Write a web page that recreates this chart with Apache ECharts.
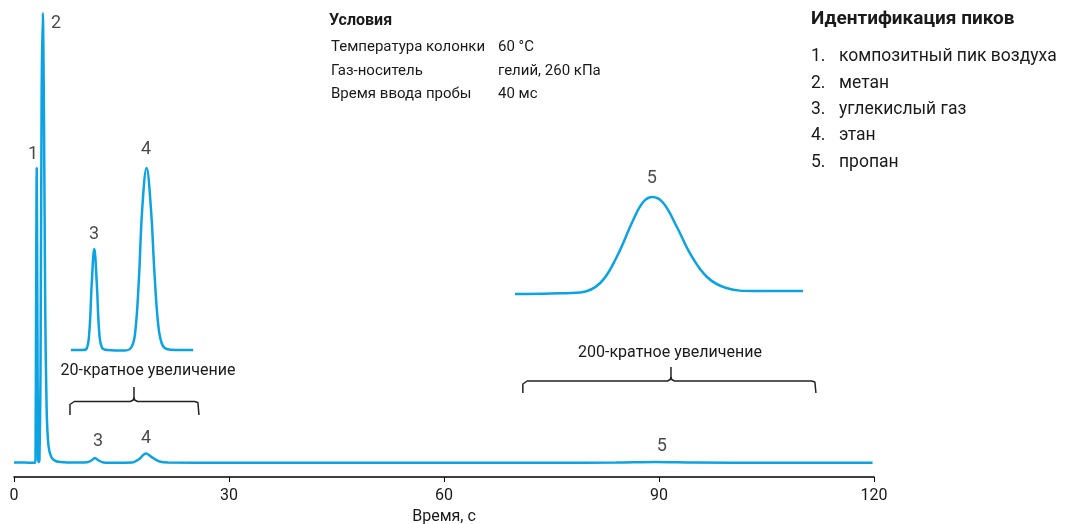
<!DOCTYPE html>
<html><head><meta charset="utf-8">
<script src="https://cdn.jsdelivr.net/npm/echarts@6/dist/echarts.min.js"></script>
<style>html,body{margin:0;padding:0;background:#fff;}#c{width:1065px;height:524px;}</style>
</head><body><div id="c"></div>
<script>
// Time axis (s) and tick labels
var xTicks = [0, 30, 60, 90, 120];
// Main chromatogram: [time s, signal]
var mainTrace = [
  [0,0.5],[1.5,0.4],[2.9,0.3],[3.0,4],[3.08,150],[3.17,295],[3.26,150],[3.36,6],[3.45,1],
  [3.55,3],[3.7,90],[3.85,360],[4.02,450],[4.18,350],[4.35,160],[4.55,55],[4.8,18],[5.2,6],[5.8,2],[7,0.8],
  [9,0.5],[10.2,0.7],[10.8,2.5],[11.3,5],[11.8,2.5],[12.5,0.6],[14,0.3],[16.5,0.5],[17.4,3.5],
  [18.4,9.5],[19.4,5],[20.3,1.5],[21.5,0.4],[30,0.2],[45,0.3],[60,0.2],[75,0.3],[84,0.4],
  [89.5,1.0],[95,0.4],[105,0.3],[119.8,0.3]
];
// 20x magnified inset (CO2 and ethane)
var inset20 = [
  [7.95,113],[9.5,113],[10.1,114],[10.5,130],[10.85,180],[11.2,214],[11.55,180],[11.9,130],
  [12.3,115],[13.0,113],[15.5,112.5],[16.4,116],[16.9,130],[17.4,180],[17.9,255],[18.5,295],
  [19.1,255],[19.6,190],[20.1,140],[20.6,120],[21.3,114],[22.5,113],[25.0,113]
];
// 200x magnified inset (propane)
var inset200 = [
  [69.9,169],[75,169.5],[79,170.5],[81.8,180],[84.1,206],[86.4,243],[87.8,261],[89.1,266],
  [90.6,260],[92.5,236],[94.3,210],[96.7,186],[99.4,175],[103.2,172],[110.1,172]
];
// Peak labels: [time, signal, text]
var peakLabels = [
  [2.65,309,'1'],[5.86,440,'2'],[11.16,229,'3'],[18.42,314,'4'],[89.0,285,'5'],
  [11.72,22,'3'],[18.42,25,'4'],[90.4,17,'5']
];
// Brackets: [start, middle, end] times and [end, level, notch] signal
var bracket20X = [7.81, 16.74, 25.81];
var bracket20Y = [48, 61.5, 76];
var bracket200X = [71.0, 91.67, 111.9];
var bracket200Y = [70, 82, 96];
// Text blocks
var condTitle = 'Условия';
var condNames = ['Температура колонки', 'Газ-носитель', 'Время ввода пробы'];
var condValues = ['60 °C', 'гелий, 260 кПа', '40 мс'];
var idTitle = 'Идентификация пиков';
var idNums = ['1.', '2.', '3.', '4.', '5.'];
var idNames = ['композитный пик воздуха', 'метан', 'углекислый газ', 'этан', 'пропан'];
var zoomTexts = ['20-кратное увеличение', '200-кратное увеличение'];
var xName = 'Время, с';

function bracketSeries(X, Y) {
  var x0 = X[0], xm = X[1], x1 = X[2], ye = Y[0], y = Y[1], yn = Y[2];
  var a = [[x0, ye], [x0, y - 3], [x0 + 0.15, y - 1], [x0 + 0.6, y], [xm - 0.5, y], [xm - 0.1, y + 1.5], [xm, y + 4], [xm, yn]];
  var b = [[xm, y + 4], [xm + 0.1, y + 1.5], [xm + 0.5, y], [x1 - 0.6, y], [x1 - 0.15, y - 1], [x1, y - 3], [x1, ye]];
  return [a, b];
}

var FONT = 'Roboto';
var TXT = '#1a1a1a';
var BLUE = '#0ba3e3';
var chart = echarts.init(document.getElementById('c'), null, {renderer: 'canvas'});

var series = [
  {type: 'line', data: mainTrace, smooth: 0.3, showSymbol: false, lineStyle: {color: BLUE, width: 2.5}, z: 3, silent: true},
  {type: 'line', data: inset20, smooth: 0.4, showSymbol: false, lineStyle: {color: BLUE, width: 2.5}, z: 3, silent: true},
  {type: 'line', data: inset200, smooth: 0.4, showSymbol: false, lineStyle: {color: BLUE, width: 2.5}, z: 3, silent: true},
  {type: 'scatter', data: peakLabels.map(function (p) { return {value: [p[0], p[1]], name: p[2]}; }),
   symbolSize: 0, silent: true,
   label: {show: true, position: 'inside', formatter: function (d) { return d.name; },
           fontFamily: FONT, fontSize: 18, color: TXT}}
];
[bracketSeries(bracket20X, bracket20Y), bracketSeries(bracket200X, bracket200Y)].forEach(function (parts) {
  parts.forEach(function (d) {
    series.push({type: 'line', data: d, smooth: false, showSymbol: false, silent: true,
      lineStyle: {color: '#222', width: 1.5}, z: 2});
  });
});

var graphics = [];
graphics.push({type: 'text', left: 329, top: 13, style: {text: condTitle, font: 'bold 16px ' + FONT, fill: TXT}});
condNames.forEach(function (n, i) {
  graphics.push({type: 'text', left: 331, top: 40 + i * 23.5, style: {text: n, font: '15px ' + FONT, fill: TXT}});
  graphics.push({type: 'text', left: 498, top: 40 + i * 23.5, style: {text: condValues[i], font: '15px ' + FONT, fill: TXT}});
});
graphics.push({type: 'text', left: 811, top: 10, style: {text: idTitle, font: 'bold 19px ' + FONT, fill: TXT}});
idNames.forEach(function (n, i) {
  graphics.push({type: 'text', left: 811, top: 48 + i * 26.3, style: {text: idNums[i], font: '17.5px ' + FONT, fill: TXT}});
  graphics.push({type: 'text', left: 839, top: 48 + i * 26.3, style: {text: n, font: '17.5px ' + FONT, fill: TXT}});
});
graphics.push({type: 'text', x: 148, y: 371, style: {text: zoomTexts[0], font: '16px ' + FONT, fill: TXT, textAlign: 'center', textVerticalAlign: 'middle'}});
graphics.push({type: 'text', x: 670, y: 353, style: {text: zoomTexts[1], font: '16px ' + FONT, fill: TXT, textAlign: 'center', textVerticalAlign: 'middle'}});

chart.setOption({
  animation: false,
  backgroundColor: '#fff',
  grid: {left: 14, right: 191, top: 13, bottom: 47, containLabel: false, outerBoundsMode: 'none'},
  xAxis: {
    type: 'value', min: 0, max: 120, interval: 30,
    name: xName, nameLocation: 'middle', nameGap: 29,
    nameTextStyle: {fontFamily: FONT, fontSize: 16, color: TXT},
    axisLine: {show: true, onZero: false, lineStyle: {color: '#000', width: 1.5}},
    axisTick: {show: true, length: 5, lineStyle: {color: '#000', width: 1}},
    axisLabel: {margin: 11, fontFamily: FONT, fontSize: 16, color: TXT,
      formatter: function (v) { return xTicks.indexOf(v) >= 0 ? String(v) : ''; }},
    splitLine: {show: false}
  },
  yAxis: {type: 'value', min: -14, max: 450, show: false, splitLine: {show: false}},
  series: series,
  graphic: graphics
});
</script>
</body></html>
